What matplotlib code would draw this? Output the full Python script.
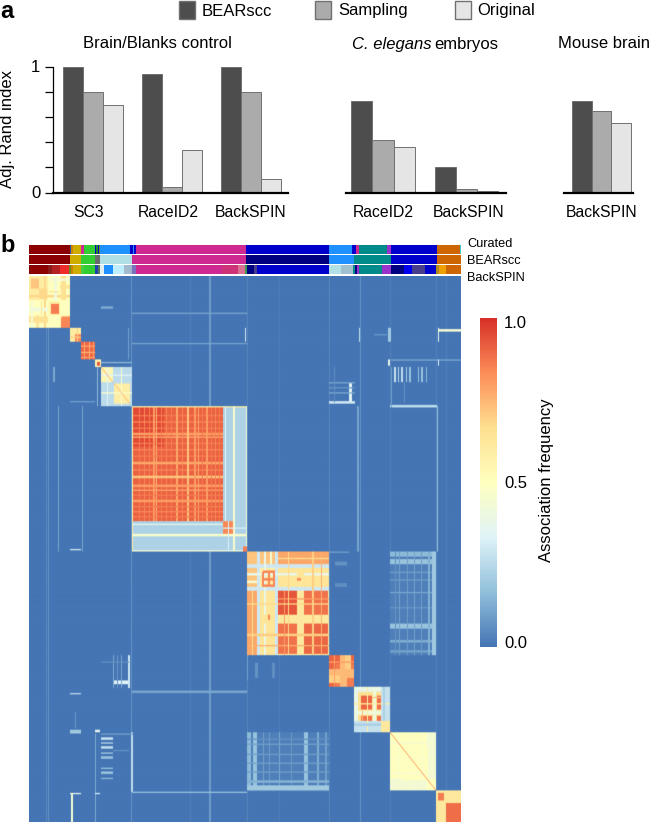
import numpy as np
import matplotlib
matplotlib.use("Agg")
import matplotlib.pyplot as plt
from matplotlib.colors import LinearSegmentedColormap
from matplotlib.patches import Rectangle

plt.rcParams['font.family'] = ['Liberation Sans', 'DejaVu Sans']

# Panel a: adjusted Rand index
methods = ["BEARscc", "Sampling", "Original"]
method_colors = ["#4d4d4d", "#ababab", "#e5e5e5"]
brain_labels = ["SC3", "RaceID2", "BackSPIN"]
brain_bearscc = [1.0, 0.94, 1.0]
brain_sampling = [0.80, 0.04, 0.795]
brain_original = [0.695, 0.34, 0.105]
elegans_labels = ["RaceID2", "BackSPIN"]
elegans_bearscc = [0.73, 0.205]
elegans_sampling = [0.415, 0.03]
elegans_original = [0.365, 0.012]
mouse_labels = ["BackSPIN"]
mouse_bearscc = [0.725]
mouse_sampling = [0.65]
mouse_original = [0.555]

# Panel b: annotation strips, (last cell of the segment, colour)
curated = [(40.5, "#8b0000"), (41.7, "#3050a0"), (44.3, "#cd8500"), (52, "#cdad00"), (55.3, "#cd2990"),
           (66, "#32cd32"), (67, "#0000cd"), (68.7, "#228b22"), (70, "#0000cd"), (71.3, "#6b8e23"),
           (101.3, "#1e90ff"), (104, "#0000cd"), (105.3, "#1e90ff"), (106.7, "#0000cd"), (217.3, "#cd2990"),
           (299.7, "#0000cd"), (322.7, "#1e90ff"), (326.7, "#0000cd"), (330.3, "#cd2990"), (358, "#008b8b"),
           (361.7, "#9932cc"), (407.7, "#0000cd"), (431.3, "#cd6600"), (432, "#40c8c8")]
bearscc_strip = [(41, "#8b0000"), (52, "#cdad00"), (66, "#32cd32"), (71.3, "#696969"), (103.3, "#b0e0e6"),
                 (217.3, "#cd2990"), (299.7, "#000080"), (325, "#1e90ff"), (361.7, "#008b8b"),
                 (407.7, "#0000cd"), (432, "#cd6600")]
backspin_strip = [(18.7, "#8b0000"), (22.7, "#8b1a1a"), (30.7, "#b22222"), (40.3, "#ee2c2c"), (41.7, "#6b8e23"),
                  (44, "#cd8500"), (52, "#cdad00"), (55.3, "#43cd43"), (66, "#32cd32"), (68.7, "#2040b0"),
                  (71.3, "#557755"), (75.3, "#e0eef0"), (84.3, "#1e90ff"), (94.7, "#bfefff"), (100, "#a2bccd"),
                  (103.3, "#9fb6cd"), (106.7, "#7a70c0"), (193.3, "#cd2990"), (208.7, "#cd3278"), (216, "#db7093"),
                  (218, "#3c9a50"), (225, "#000080"), (227.7, "#483d8b"), (299.7, "#0000cd"), (312, "#b0e0e6"),
                  (323.7, "#9fc0cf"), (326, "#008b8b"), (327.7, "#000080"), (330.3, "#9932cc"), (353, "#008b8b"),
                  (361.7, "#9932cc"), (375, "#000080"), (383, "#0000ee"), (396.3, "#483d8b"), (407, "#0000cd"),
                  (409.6, "#b08a20"), (417, "#eea000"), (431.7, "#cd6600"), (432, "#40c8c8")]
strip_names = ["Curated", "BEARscc", "BackSPIN"]

# Panel b: association frequencies on the 432 ordered cells
# vertical faint lines are (first, last, value), the rest (first, last, first, last, value)
faint_lines = [(17, 18, 0.05), (19, 20, 0.07), (102, 103, 0.07), (161, 162, 0.03), (180, 182, 0.09),
               (218, 219, 0.04), (250, 251, 0.02), (300, 301, 0.04), (331, 332, 0.07), (361, 362, 0.03),
               (407, 408, 0.03), (417, 418, 0.03)]
off_block = [(29, 30, 103, 218, 0.11), (53, 54, 103, 218, 0.11), (41, 52, 216, 217, 0.30),
             (24, 26, 72, 84, 0.12), (41, 66, 99, 100, 0.10), (68, 69, 72, 103, 0.16),
             (103, 218, 328, 330, 0.11), (103, 218, 408, 409, 0.18),
             (218, 300, 361, 408, 0.025), (218, 222, 361, 407, 0.16), (224, 228, 361, 407, 0.18), (234, 235, 361, 407, 0.10),
             (240, 241, 361, 407, 0.09), (250, 251, 361, 407, 0.12), (262, 263, 361, 407, 0.08),
             (275, 279, 361, 407, 0.18), (288, 290, 361, 407, 0.13), (296, 298, 361, 407, 0.10),
             (218, 300, 366, 367, 0.07), (218, 300, 370, 371, 0.10), (218, 300, 378, 379, 0.09), (218, 300, 385, 386, 0.10),
             (218, 300, 392, 393, 0.09), (218, 300, 399, 401, 0.14), (218, 300, 403, 407, 0.20),
             (226, 229, 306, 318, 0.07), (243, 246, 306, 318, 0.06),
             (365, 367, 72, 84, 0.28), (369, 370, 72, 84, 0.24), (372, 374, 72, 84, 0.26), (377, 378, 72, 84, 0.20),
             (380, 382, 72, 84, 0.18), (389, 390, 72, 84, 0.18), (392, 394, 72, 84, 0.18), (397, 398, 72, 84, 0.16),
             (361, 408, 102, 104, 0.26), (362, 363, 72, 104, 0.10), (375, 376, 84, 100, 0.07),
             (320, 323, 84, 100, 0.34), (300, 326, 99, 101, 0.30),
             (300, 326, 84, 85, 0.12), (300, 326, 88, 89, 0.08), (300, 326, 92, 93, 0.12), (305, 306, 72, 100, 0.06),
             (330, 331, 41, 52, 0.26), (359, 362, 41, 52, 0.20), (345, 358, 46, 47, 0.08),
             (409, 410, 41, 52, 0.36), (409, 432, 42, 44, 0.44), (362, 432, 66, 67, 0.12), (359, 361, 66, 71, 0.36),
             (409, 410, 66, 71, 0.32), (300, 320, 218, 219, 0.10)]
block_squares = [(0, 41, 0, 41, 0.50), (0, 19, 0, 19, 0.60), (2, 10, 2, 10, 0.72), (10, 18, 10, 18, 0.68),
                 (20, 31, 20, 31, 0.58), (22, 30, 22, 30, 0.86), (31, 41, 31, 41, 0.56), (32, 41, 33, 41, 0.84),
                 (41, 52, 41, 52, 0.60), (46, 52, 46, 52, 0.84), (52, 66, 52, 66, 0.90),
                 (66, 72, 66, 72, 0.56), (68, 71, 68, 71, 0.92),
                 (72, 103, 72, 103, 0.26), (72, 84, 72, 84, 0.54), (85, 101, 85, 101, 0.59),
                 (103, 218, 103, 218, 0.23), (104, 194, 104, 194, 0.91), (104, 135, 104, 135, 0.95),
                 (194, 205, 194, 205, 0.84), (214, 218, 214, 218, 0.86),
                 (218, 300, 218, 300, 0.60), (218, 228, 218, 249, 0.72), (218, 228, 249, 300, 0.72),
                 (231, 249, 249, 300, 0.64), (249, 268, 249, 268, 0.93), (249, 268, 275, 299, 0.88),
                 (275, 299, 275, 299, 0.90), (249, 300, 218, 228, 0.78),
                 (300, 325, 300, 325, 0.86), (300, 307, 300, 325, 0.90),
                 (325, 361, 325, 361, 0.28), (328, 352, 328, 352, 0.66), (332, 343, 332, 343, 0.90),
                 (348, 352, 332, 343, 0.88), (348, 352, 348, 352, 0.88),
                 (352, 361, 352, 361, 0.62), (325, 328, 325, 352, 0.40),
                 (361, 407, 361, 407, 0.50), (361, 373, 398, 407, 0.42), (399, 407, 361, 398, 0.44),
                 (407, 432, 407, 432, 0.60), (409, 415, 409, 415, 0.86), (417, 432, 417, 432, 0.89), (415, 432, 407, 417, 0.62)]
block_stripes = [(15, 17, 0, 41, 0.68), (7, 10, 31, 41, 0.64), (32, 37, 0, 19, 0.66), (25, 28, 0, 19, 0.42),
                 (2, 4, 20, 41, 0.44), (12, 13, 20, 31, 0.64), (48, 49, 41, 52, 0.70),
                 (55, 56, 52, 66, 0.78), (60, 61, 52, 66, 0.76), (64, 65, 52, 66, 0.80),
                 (78, 79, 72, 103, 0.34), (92, 93, 72, 103, 0.46),
                 (103, 104, 103, 218, 0.60), (110, 111, 104, 194, 0.86), (115, 116, 104, 194, 0.84), (120, 121, 104, 194, 0.86),
                 (124, 126, 104, 194, 0.80), (127, 128, 104, 194, 0.76), (132, 133, 104, 194, 0.86),
                 (137, 138, 104, 194, 0.84), (142, 143, 104, 194, 0.86), (147, 149, 104, 194, 0.78), (153, 154, 104, 194, 0.84),
                 (158, 160, 104, 194, 0.72), (165, 167, 104, 194, 0.80), (169, 170, 104, 194, 0.78), (173, 174, 104, 194, 0.86),
                 (177, 179, 104, 194, 0.80), (182, 183, 104, 194, 0.86), (186, 187, 104, 194, 0.84), (190, 191, 104, 194, 0.86),
                 (204, 206, 103, 218, 0.46), (196, 197, 103, 194, 0.36), (217, 218, 103, 214, 0.44), (199, 200, 194, 218, 0.32),
                 (228, 231, 218, 300, 0.30), (246, 249, 218, 300, 0.30), (235, 237, 218, 300, 0.38),
                 (241, 243, 218, 228, 0.45), (268, 275, 249, 300, 0.62), (268, 275, 231, 246, 0.64),
                 (283, 285, 218, 300, 0.70), (255, 256, 249, 300, 0.80), (292, 293, 218, 300, 0.76), (259, 260, 218, 300, 0.68),
                 (233, 235, 234, 246, 0.84), (239, 241, 234, 246, 0.84), (244, 246, 234, 246, 0.84),
                 (239, 241, 268, 272, 0.84), (223, 224, 249, 300, 0.66),
                 (311, 318, 300, 325, 0.74), (316, 322, 300, 311, 0.70), (305, 306, 300, 325, 0.80),
                 (328, 329, 325, 352, 0.34), (344, 347, 328, 352, 0.42), (338, 339, 325, 361, 0.60),
                 (333, 334, 344, 352, 0.74), (354, 356, 325, 352, 0.22), (369, 370, 361, 407, 0.45),
                 (381, 382, 361, 407, 0.47), (393, 394, 361, 407, 0.45)]
diagonals = [(72, 84, 0.75), (85, 101, 0.74), (361, 407, 0.80)]

# x offsets of the bar group labels, they are not quite centred in the reference
brain_label_x = [-0.05, 0.95, 2.0]
elegans_label_x = [0.0, 1.02]
mouse_label_x = [0.0]

# pixel geometry of the reference
fig_w, fig_h = 649, 823


def pixel_axes(left, top, right, bottom):
    return fig.add_axes([left / fig_w, 1 - bottom / fig_h, (right - left) / fig_w, (bottom - top) / fig_h])


def bar_panel(ax, labels, label_x, groups, show_y=False):
    x = np.arange(len(labels))
    for k, values in enumerate(groups):
        ax.bar(x + (k - 1) * 0.2525, values, 0.2525, color=method_colors[k], edgecolor="#707070", linewidth=0.7)
    ax.set_ylim(0, 1)
    ax.set_xticks(label_x, labels, fontsize=11.3)
    ax.tick_params(axis="x", length=0, pad=9)
    ax.spines[["top", "right"]].set_visible(False)
    ax.spines["bottom"].set_linewidth(1.6)
    if show_y:
        ax.set_yticks([0, 0.2, 0.4, 0.6, 0.8, 1.0], ["0", "", "", "", "", "1"], fontsize=12)
        ax.tick_params(axis="y", length=6, width=0.9, pad=3)
        ax.spines["left"].set_linewidth(0.9)
    else:
        ax.set_yticks([])
        ax.spines["left"].set_visible(False)
    ax.patch.set_alpha(0)


fig = plt.figure(figsize=(fig_w / 100, fig_h / 100), dpi=100)

ax1 = pixel_axes(53, 66.5, 288, 192.5)
bar_panel(ax1, brain_labels, brain_label_x, [brain_bearscc, brain_sampling, brain_original], show_y=True)
ax1.set_xlim(-0.506, 2.468)
ax2 = pixel_axes(345.6, 66.5, 506, 192.5)
bar_panel(ax2, elegans_labels, elegans_label_x, [elegans_bearscc, elegans_sampling, elegans_original])
ax2.set_xlim(-0.448, 1.473)
ax3 = pixel_axes(564, 66.5, 633, 192.5)
bar_panel(ax3, mouse_labels, mouse_label_x, [mouse_bearscc, mouse_sampling, mouse_original])
ax3.set_xlim(-0.475, 0.40)


def fig_text(x, y, s, **kw):
    kw.setdefault("va", "center")
    return fig.text(x / fig_w, 1 - y / fig_h, s, **kw)


fig_text(157, 44, "Brain/Blanks control", ha="center", fontsize=12)
fig_text(352, 44, "C. elegans", ha="left", fontsize=12, style="italic")
fig_text(434, 44, "embryos", ha="left", fontsize=12)
fig_text(558, 44, "Mouse brain", ha="left", fontsize=12)
fig_text(8, 129, "Adj. Rand index", ha="center", rotation=90, fontsize=12)
fig_text(0, 11, "a", ha="left", fontsize=17, fontweight="bold")
fig_text(0, 245, "b", ha="left", fontsize=17, fontweight="bold")

# legend boxes drawn by hand, they sit apart from each other
for name, color, box_x, text_x in zip(methods, method_colors, [179, 315, 454.5], [202, 338, 477]):
    fig.add_artist(Rectangle((box_x / fig_w, 1 - 19 / fig_h), 16 / fig_w, 18 / fig_h, transform=fig.transFigure,
                             facecolor=color, edgecolor="#707070", linewidth=1))
    fig_text(text_x, 11, name, ha="left", fontsize=12)

# annotation strips
ax_strip = pixel_axes(29, 245, 461, 274)
for row, strip in enumerate([curated, bearscc_strip, backspin_strip]):
    start = 0
    for stop, color in strip:
        ax_strip.barh(row, stop - start, 0.84, left=start, color=color, linewidth=0)
        start = stop
ax_strip.set_xlim(0, 432)
ax_strip.set_ylim(2.45, -0.45)
ax_strip.axis("off")
for name, y in zip(strip_names, [244, 261, 278]):
    fig_text(467, y, name, ha="left", fontsize=9.2)

# association matrix
matrix = np.zeros((432, 432))
for start, stop, value in faint_lines:
    matrix[:, start:stop] = value
for a0, a1, b0, b1, value in off_block + block_squares + block_stripes:
    matrix[a0:a1, b0:b1] = value
    matrix[b0:b1, a0:a1] = value
for start, stop, value in diagonals:
    for i in range(start, stop):
        matrix[i, i] = value

rdylbu = LinearSegmentedColormap.from_list(
    "assoc", ["#4575b4", "#91bfdb", "#e0f3f8", "#ffffbf", "#fee090", "#fc8d59", "#d73027"])

ax_heat = pixel_axes(29, 276, 461, 822)
im = ax_heat.imshow(matrix, cmap=rdylbu, vmin=0, vmax=1, aspect="auto", interpolation="gaussian",
                    interpolation_stage="rgba")
ax_heat.axis("off")

cax = pixel_axes(480, 318, 497, 647)
cb = fig.colorbar(im, cax=cax)
cb.set_ticks([0.015, 0.5, 0.988], labels=["0.0", "0.5", "1.0"])
cb.ax.tick_params(length=0, labelsize=12, pad=5)
cb.outline.set_visible(False)
fig_text(547, 480, "Association frequency", ha="center", rotation=90, fontsize=12)

fig.savefig("out.png", dpi=100)
